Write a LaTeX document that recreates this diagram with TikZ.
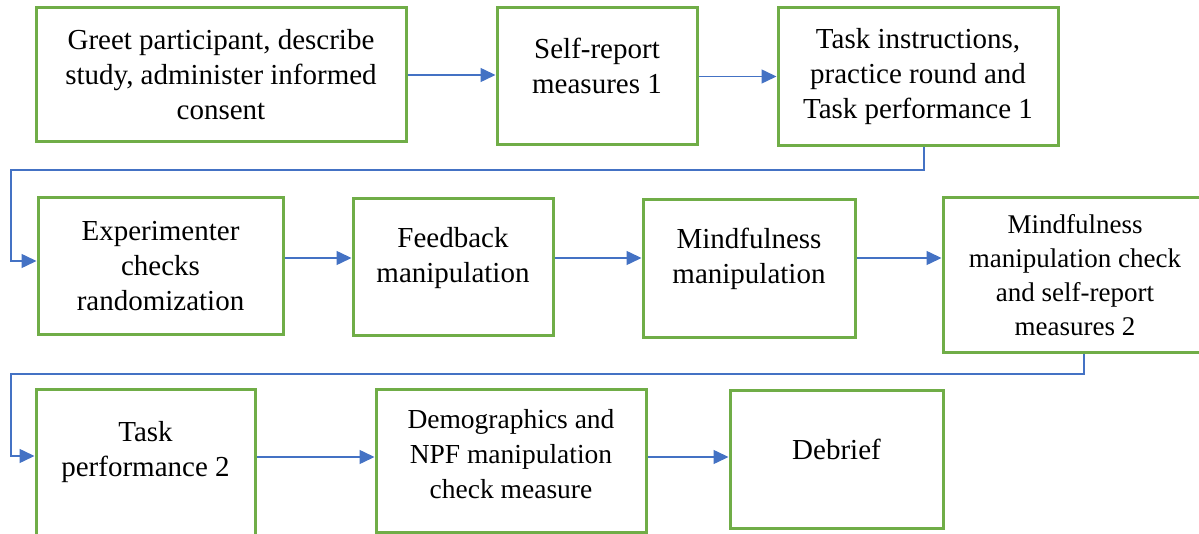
\documentclass[tikz,border=0pt]{standalone}
\usepackage{fontspec}
\setmainfont{Liberation Serif}
\usetikzlibrary{arrows.meta}
\definecolor{boxgreen}{HTML}{70AD47}
\definecolor{linkblue}{HTML}{4472C4}
\tikzset{
    stage/.style={draw=boxgreen, line width=3pt, align=center, inner sep=0pt,
        font=\fontsize{29}{35}\selectfont},
    lift/.style={text depth=#1},
    flow/.style={draw=linkblue, line width=1.5pt, -{Triangle[length=15pt,width=14pt]}}
}

\begin{document}
\begin{tikzpicture}[x=1pt,y=-1pt]
    \useasboundingbox (0,0) rectangle (1199,534);
    \clip (0,0) rectangle (1199,534);

    % first row
    \node[stage, minimum width=370pt, minimum height=134pt] (b1) at (221,75)
        {Greet participant, describe\\study, administer informed\\consent};
    \node[stage, minimum width=200pt, minimum height=137pt, lift=21pt] (b2) at (597,76.5)
        {Self-report\\measures 1};
    \node[stage, minimum width=280pt, minimum height=138pt] (b3) at (918,77)
        {Task instructions,\\practice round and\\Task performance 1};

    % second row
    \node[stage, minimum width=245pt, minimum height=137pt] (b4) at (160.5,266.5)
        {Experimenter\\checks\\randomization};
    \node[stage, minimum width=200pt, minimum height=137pt, lift=25pt] (b5) at (453,267.5)
        {Feedback\\manipulation};
    \node[stage, minimum width=212pt, minimum height=138pt, lift=26pt] (b6) at (749,269)
        {Mindfulness\\manipulation};
    \node[stage, minimum width=264pt, minimum height=155pt, font=\fontsize{27}{34}\selectfont] (b7) at (1075,275.5)
        {Mindfulness\\manipulation check\\and self-report\\measures 2};

    % third row
    \node[stage, minimum width=219pt, minimum height=156pt, lift=36pt] (b8) at (145.5,467)
        {Task\\performance 2};
    \node[stage, minimum width=270pt, minimum height=143pt, lift=13pt, font=\fontsize{27.5}{35}\selectfont] (b9) at (511,460.5)
        {Demographics and\\NPF manipulation\\check measure};
    \node[stage, minimum width=213pt, minimum height=138pt, lift=20pt] (b10) at (836.5,459)
        {Debrief};

    % arrow lanes and bends
    \coordinate (lane2) at (0,258);
    \coordinate (lane3) at (0,457);
    \coordinate (bend1) at (11,170);
    \coordinate (bend2) at (11,374);

    % arrows within rows
    \draw[flow] (b1.east) -- (b1.east -| b2.west);
    \draw[flow] (b2.east) -- (b2.east -| b3.west);
    \draw[flow] (b4.east |- lane2) -- (b5.west |- lane2);
    \draw[flow] (b5.east |- lane2) -- (b6.west |- lane2);
    \draw[flow] (b6.east |- lane2) -- (b7.west |- lane2);
    \draw[flow] (b8.east |- lane3) -- (b9.west |- lane3);
    \draw[flow] (b9.east |- lane3) -- (b10.west |- lane3);

    % arrows between rows
    \draw[flow] ([xshift=6pt]b3.south) |- (bend1) |- ([yshift=5.5pt]b4.west);
    \draw[flow] ([xshift=9pt]b7.south) |- (bend2) |- ([yshift=11pt]b8.west);
\end{tikzpicture}
\end{document}
